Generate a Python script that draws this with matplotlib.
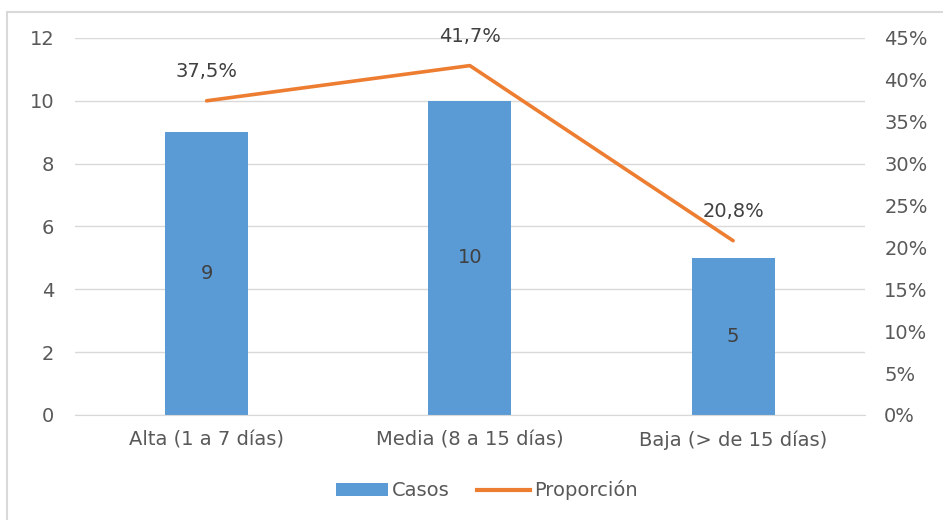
import matplotlib.pyplot as plt
from matplotlib.lines import Line2D
from matplotlib.patches import Patch, Rectangle
from matplotlib.ticker import FuncFormatter, MultipleLocator

categorias = ["Alta (1 a 7 días)", "Media (8 a 15 días)", "Baja (> de 15 días)"]
casos = [9, 10, 5]
proporcion = [0.375, 0.417, 0.208]
etiquetas_prop = ["37,5%", "41,7%", "20,8%"]

azul = "#5B9BD5"
naranja = "#ED7D31"
gris_txt = "#595959"
gris_grid = "#D9D9D9"

plt.rcParams['font.family'] = ['DejaVu Sans']

fig = plt.figure(figsize=(9.43, 5.2), dpi=100)
ax = fig.add_axes([0.0795, 0.202, 0.8375, 0.725])
ax2 = ax.twinx()

x = list(range(len(categorias)))
ax.bar(x, casos, width=0.315, color=azul, zorder=2)
for xi, v in zip(x, casos):
    ax.text(xi, v / 2, str(v), ha='center', va='center', fontsize=14, color="#404040", zorder=3)

ax.set_xlim(-0.5, 2.5)
ax.set_ylim(0, 12)
ax.yaxis.set_major_locator(MultipleLocator(2))
ax.grid(axis='y', color=gris_grid, linewidth=1, zorder=0)
ax.set_axisbelow(True)
ax.set_xticks(x)
ax.set_xticklabels(categorias)
ax.tick_params(axis='both', length=0, labelsize=14, colors=gris_txt)
ax.tick_params(axis='x', pad=11)
ax.tick_params(axis='y', pad=15)
for s in ['top', 'right', 'left']:
    ax.spines[s].set_visible(False)
ax.spines['bottom'].set_color(gris_grid)

ax2.plot(x, proporcion, color=naranja, linewidth=2.6, solid_capstyle='round', zorder=4)
for xi, p, t in zip(x, proporcion, etiquetas_prop):
    ax2.annotate(t, (xi, p), xytext=(0, 14), textcoords='offset points',
                 ha='center', va='bottom', fontsize=14, color="#404040")
ax2.set_ylim(0, 0.45)
ax2.yaxis.set_major_locator(MultipleLocator(0.05))
ax2.yaxis.set_major_formatter(FuncFormatter(lambda v, _: f"{v * 100:.0f}%"))
ax2.tick_params(axis='y', length=0, labelsize=14, colors=gris_txt, pad=14)
for s in ax2.spines.values():
    s.set_visible(False)

handles = [Patch(facecolor=azul, edgecolor='none'),
           Line2D([0], [0], color=naranja, linewidth=3)]
fig.legend(handles, ["Casos", "Proporción"], loc='center', bbox_to_anchor=(0.516, 0.057),
           ncol=2, frameon=False, fontsize=14, labelcolor=gris_txt,
           handlelength=2.7, handleheight=0.6, handletextpad=0.2, columnspacing=1.4)

# marco del gráfico
fig.patches.append(Rectangle((7 / 943, -0.1), 1.2, 1 - 12 / 520 + 0.1,
                             transform=fig.transFigure, fill=False,
                             edgecolor=gris_grid, linewidth=1.5))

fig.savefig("out.png", dpi=100)
